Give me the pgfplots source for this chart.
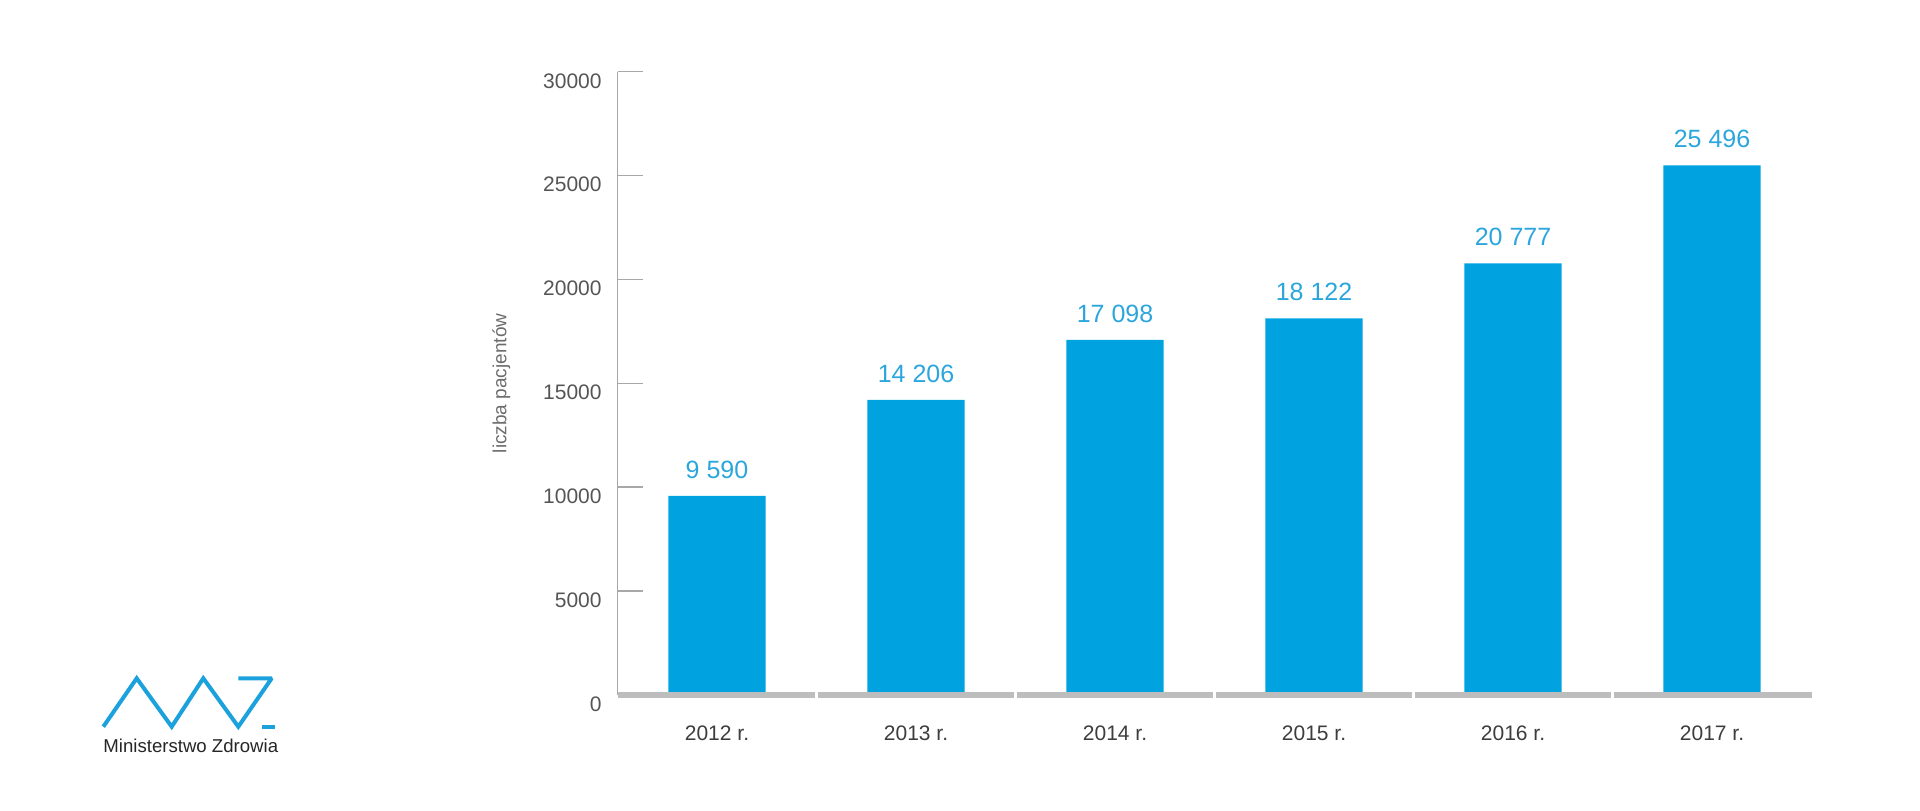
\documentclass[border=0pt]{standalone}
\usepackage{pgfplots}
\pgfplotsset{compat=1.18}
\usepackage{fontspec}
\setmainfont{Liberation Sans}
\definecolor{barblue}{HTML}{00A3E0}
\definecolor{labelblue}{HTML}{2BA6DC}
\definecolor{logoblue}{HTML}{1BA1DC}
\definecolor{xaxisgray}{HTML}{BDBDBD}
\definecolor{yaxisgray}{HTML}{A8A8A8}
\definecolor{ticktext}{HTML}{555555}
\definecolor{xtext}{HTML}{3D3D3D}
\begin{document}
\begin{tikzpicture}
\useasboundingbox (0,0) rectangle (960pt,405pt);
\begin{axis}[
  at={(308.75pt,57.5pt)}, anchor=south west,
  scale only axis, width=597pt, height=311.65pt,
  xmin=-0.5, xmax=5.5, ymin=0, ymax=30000,
  axis x line=none,
  axis y line*=left,
  y axis line style={-, line width=0.8pt, color=yaxisgray},
  /pgf/number format/assume math mode=true,
  scaled y ticks=false,
  ytick={0,5000,10000,15000,20000,25000,30000},
  yticklabel style={/pgf/number format/1000 sep={}, anchor=base east, inner sep=0pt,
     xshift=-7.75pt, yshift=-8.15pt, font=\fontsize{10.5}{12}\selectfont, text=ticktext},
  tick align=inside,
  major tick length=12.5pt,
  y tick style={yaxisgray, line width=0.75pt},
  xtick=\empty,
  every axis y label/.style={at={(axis description cs:-0.0972,0.5)}, rotate=90, anchor=center},
  ylabel={liczba pacjentów},
  ylabel style={font=\fontsize{9.5}{11}\selectfont, text=gray!85!black},
  ybar, bar width=48.7pt,
  clip=false,
  nodes near coords={\pgfmathprintnumber[1000 sep={\ }, assume math mode=true]{\pgfplotspointmeta}},
  every node near coord/.append style={anchor=south, inner sep=0pt, yshift=8.5pt,
     font=\fontsize{12.5}{14}\selectfont, text=labelblue},
]
\addplot[fill=barblue, draw=none] coordinates {
  (0,9590) (1,14206) (2,17098) (3,18122) (4,20777) (5,25496)
};
% segmented base line
\draw[xaxisgray, line width=2.6pt] (axis cs:-0.5,0) -- (axis cs:0.492,0);
\draw[xaxisgray, line width=2.6pt] (axis cs:0.508,0) -- (axis cs:1.492,0);
\draw[xaxisgray, line width=2.6pt] (axis cs:1.508,0) -- (axis cs:2.492,0);
\draw[xaxisgray, line width=2.6pt] (axis cs:2.508,0) -- (axis cs:3.492,0);
\draw[xaxisgray, line width=2.6pt] (axis cs:3.508,0) -- (axis cs:4.492,0);
\draw[xaxisgray, line width=2.6pt] (axis cs:4.508,0) -- (axis cs:5.5,0);
% category labels
\node[anchor=base, inner sep=0pt, yshift=-22.5pt, font=\fontsize{10.5}{12}\selectfont, text=xtext] at (axis cs:0,0) {2012 r.};
\node[anchor=base, inner sep=0pt, yshift=-22.5pt, font=\fontsize{10.5}{12}\selectfont, text=xtext] at (axis cs:1,0) {2013 r.};
\node[anchor=base, inner sep=0pt, yshift=-22.5pt, font=\fontsize{10.5}{12}\selectfont, text=xtext] at (axis cs:2,0) {2014 r.};
\node[anchor=base, inner sep=0pt, yshift=-22.5pt, font=\fontsize{10.5}{12}\selectfont, text=xtext] at (axis cs:3,0) {2015 r.};
\node[anchor=base, inner sep=0pt, yshift=-22.5pt, font=\fontsize{10.5}{12}\selectfont, text=xtext] at (axis cs:4,0) {2016 r.};
\node[anchor=base, inner sep=0pt, yshift=-22.5pt, font=\fontsize{10.5}{12}\selectfont, text=xtext] at (axis cs:5,0) {2017 r.};
\end{axis}
% logo
\begin{scope}[x=0.5pt, y=-0.5pt, yshift=405pt]
\draw[logoblue, line width=2pt, line join=miter, miter limit=2]
  (103.3,726.7) -- (136.7,678.3) -- (171.7,726.7) -- (203.3,678.3) -- (238.3,726.7) -- (271.7,678.3) -- (238.3,678.3);
\draw[logoblue, line width=2pt] (261.7,726.7) -- (275,726.7);
\node[anchor=base, inner sep=0pt, font=\fontsize{9.3}{10}\selectfont, text=black!85] at (190.8,752.3) {Ministerstwo Zdrowia};
\end{scope}
\end{tikzpicture}
\end{document}
